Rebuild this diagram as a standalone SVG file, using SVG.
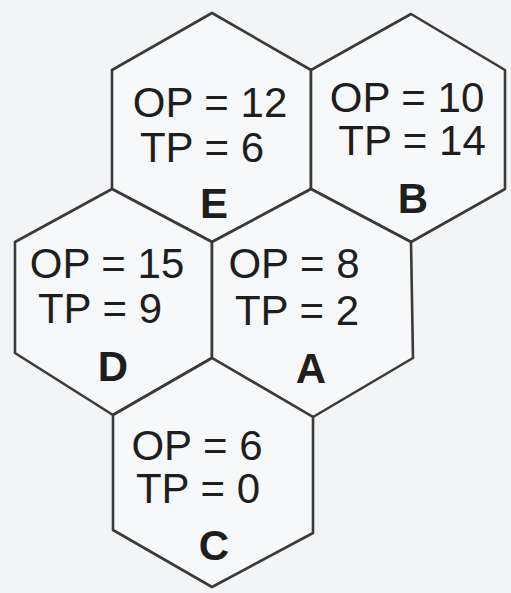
<svg xmlns="http://www.w3.org/2000/svg" width="511" height="593" viewBox="0 0 511 593">
<style>
.hex{fill:#f7f8f9;stroke:#3a3a3a;stroke-width:2.6;stroke-linejoin:round}
.t{font-family:"Liberation Sans",Arial,sans-serif;font-size:42px;fill:#1e1e1e;text-anchor:middle}
.l{font-family:"Liberation Sans",Arial,sans-serif;font-size:42px;font-weight:bold;fill:#1e1e1e;text-anchor:middle}
</style>
<rect width="511" height="593" fill="#f3f4f5"/>
<g id="E">
<polygon class="hex" points="212,13 311,70 311,189 212,242 112,189 112,70"/>
<text class="t" x="210" y="117">OP = 12</text>
<text class="t" x="202" y="162">TP = 6</text>
<text class="l" x="214" y="218">E</text>
</g>
<g id="B">
<polygon class="hex" points="411,14 505,70 505,189 411,242 311,189 311,70"/>
<text class="t" x="407" y="112">OP = 10</text>
<text class="t" x="412" y="155">TP = 14</text>
<text class="l" x="413" y="213">B</text>
</g>
<g id="D">
<polygon class="hex" points="112,189 212,242 212,358 113,415 15,353 15,242"/>
<text class="t" x="107" y="278">OP = 15</text>
<text class="t" x="100" y="323">TP = 9</text>
<text class="l" x="113" y="381">D</text>
</g>
<g id="A">
<polygon class="hex" points="311,189 411,242 413,358 313,417 212,358 212,242"/>
<text class="t" x="294" y="278">OP = 8</text>
<text class="t" x="297" y="325">TP = 2</text>
<text class="l" x="311" y="383">A</text>
</g>
<g id="C">
<polygon class="hex" points="212,358 313,417 313,533 212,587 113,530 113,415"/>
<text class="t" x="197" y="460">OP = 6</text>
<text class="t" x="198" y="503">TP = 0</text>
<text class="l" x="214" y="560">C</text>
</g>
<g id="connectors"/>
</svg>
